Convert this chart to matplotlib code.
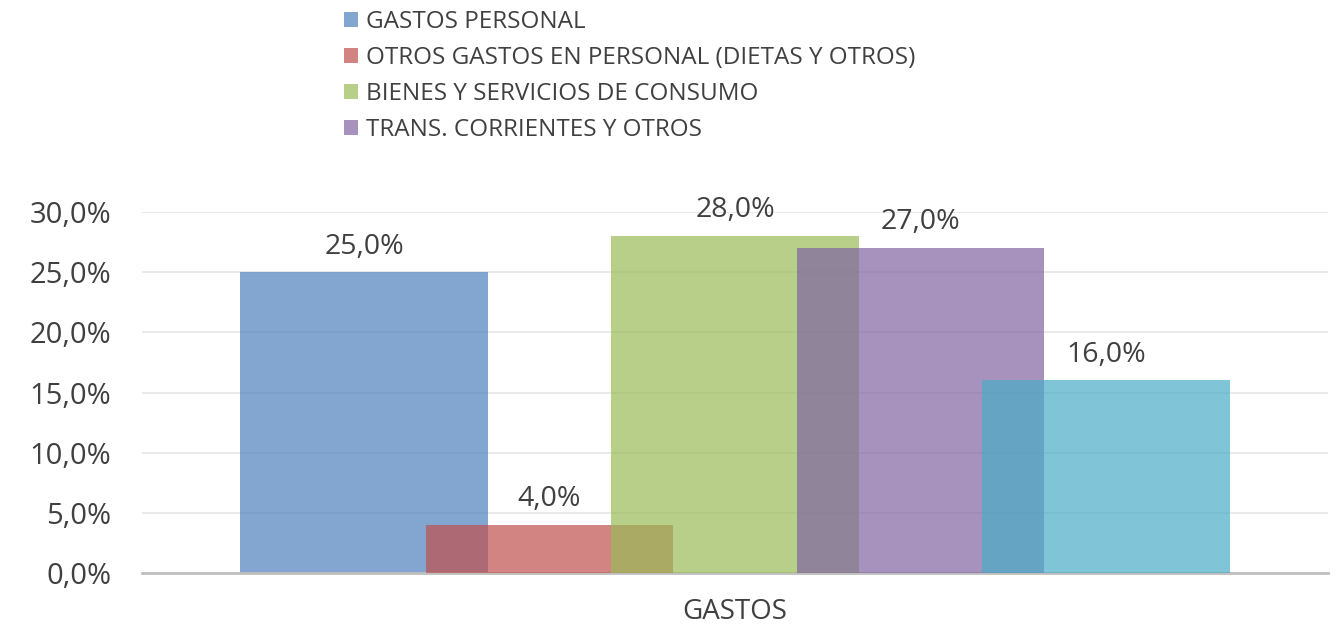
import matplotlib.pyplot as plt
from matplotlib.patches import Patch

# chart data
categories = ['GASTOS']
series = ['GASTOS PERSONAL', 'OTROS GASTOS EN PERSONAL (DIETAS Y OTROS)',
          'BIENES Y SERVICIOS DE CONSUMO', 'TRANS. CORRIENTES Y OTROS', '']
values = [25.0, 4.0, 28.0, 27.0, 16.0]
colors = ['#4F81BD', '#C0504D', '#9BBB59', '#8064A2', '#4BACC6']
yticks = [0, 5, 10, 15, 20, 25, 30]

plt.rcParams['font.family'] = ['Open Sans', 'DejaVu Sans']
text_color = '#404040'

fig = plt.figure(figsize=(13.41, 6.33), dpi=100)
W, H = 1341, 633
ax = fig.add_axes([142 / W, 60 / H, (1328 - 142) / W, 361 / H])

width = 1.0
step = 0.75
n = len(values)
for i, (v, c) in enumerate(zip(values, colors)):
    x = (i - (n - 1) / 2) * step
    ax.bar(x, v, width=width, color=c, alpha=0.7, linewidth=0, zorder=2 + i)
    ax.text(x, v + 1.55, f'{v:.1f}%'.replace('.', ','), ha='center', va='baseline',
            fontsize=20.5, color=text_color, zorder=10)

ax.set_xlim(-2.398, 2.398)
ax.set_ylim(0, 30)
ax.set_yticks(yticks)
ax.set_yticklabels([f'{t:.1f}%'.replace('.', ',') for t in yticks], fontsize=21, color=text_color)
ax.set_xticks([0])
ax.set_xticklabels(categories, fontsize=20, color=text_color)
ax.tick_params(axis='both', length=0)
ax.tick_params(axis='y', pad=22)
ax.tick_params(axis='x', pad=18)
ax.grid(axis='y', color='#E6E6E6', linewidth=1.2, zorder=0)
ax.set_axisbelow(True)
for s in ['top', 'right', 'left']:
    ax.spines[s].set_visible(False)
ax.spines['bottom'].set_color('#BFBFBF')
ax.spines['bottom'].set_linewidth(2)

handles = [Patch(facecolor=c, alpha=0.7, edgecolor='none') for c in colors[:4]]
fig.legend(handles, series[:4], loc='upper left', bbox_to_anchor=(322 / W, 1 + 12 / H),
           frameon=False, fontsize=17.5, handlelength=0.58, handleheight=0.58,
           handletextpad=0.35, labelspacing=0.5, labelcolor=text_color)

fig.savefig('out.png', dpi=100)
